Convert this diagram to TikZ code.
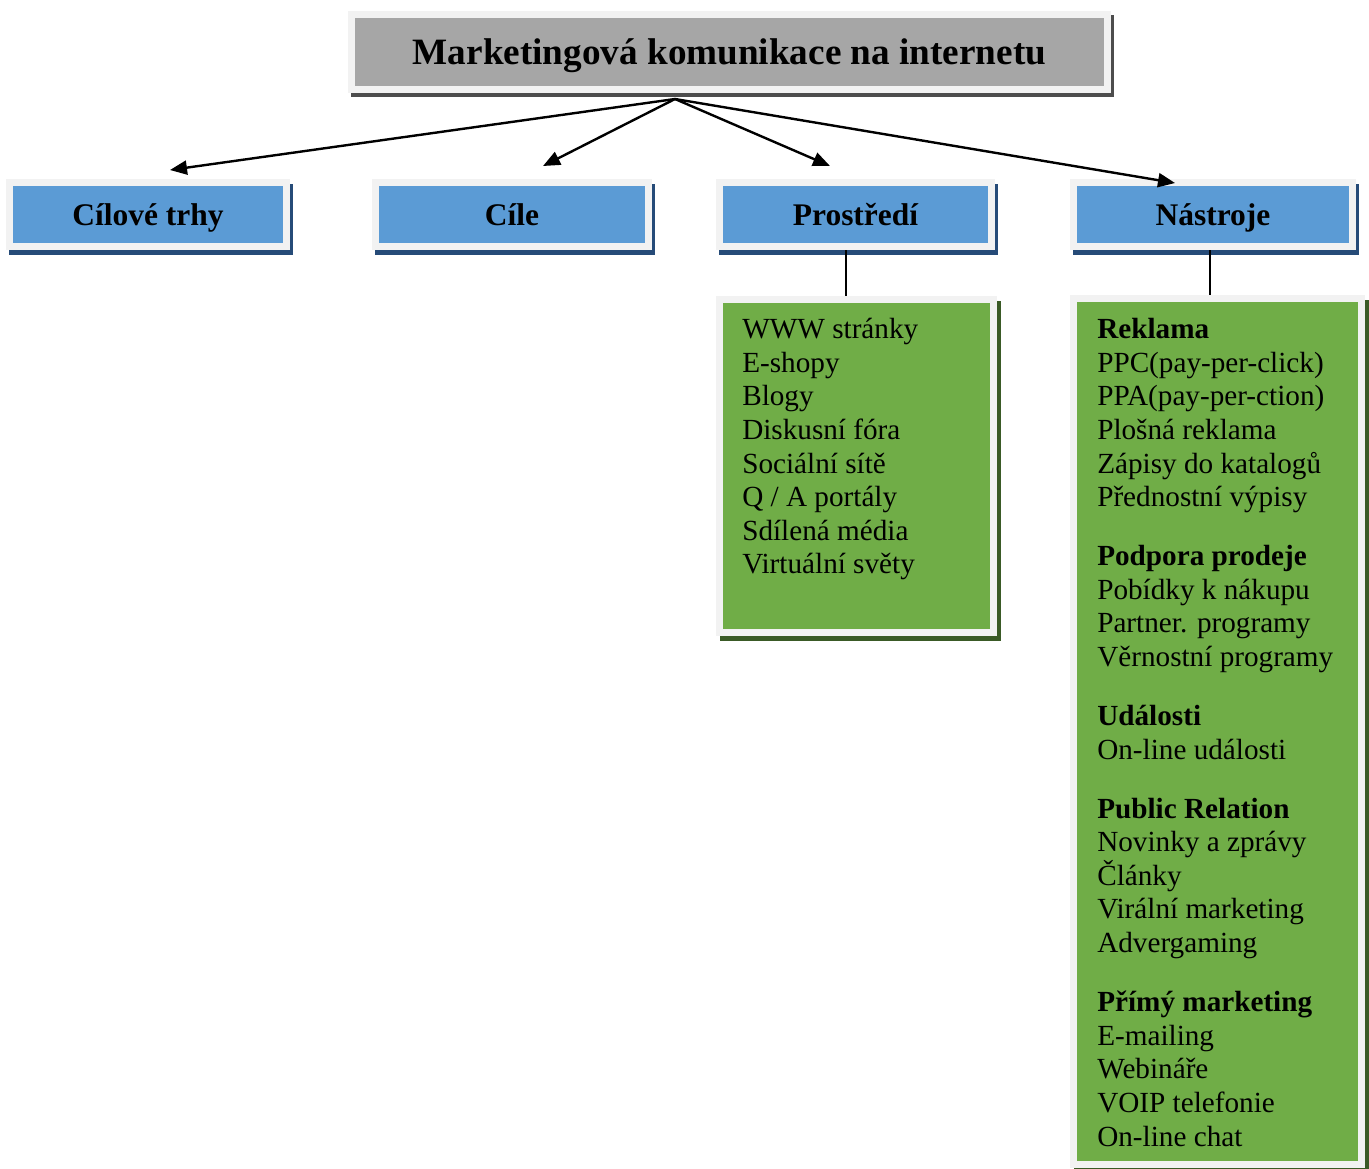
\documentclass[tikz,border=0pt]{standalone}
\usepackage{fontspec}
\setmainfont{Liberation Serif}
\usetikzlibrary{arrows.meta,shadows}

\newcommand{\pxu}{0.75pt}
\definecolor{rim}{HTML}{F2F2F2}
\definecolor{titlegray}{HTML}{A6A6A6}
\definecolor{titleshade}{HTML}{4D4D4D}
\definecolor{hdrblue}{HTML}{5B9BD5}
\definecolor{hdrshade}{HTML}{264B78}
\definecolor{listgreen}{HTML}{70AD47}
\definecolor{listshade}{HTML}{3A5A26}

\begin{document}
\begin{tikzpicture}[x=0.75pt,y=-0.75pt,
	box/.style={draw=rim, line width=7*\pxu, inner sep=0pt},
	titlebox/.style={box, fill=titlegray, text height=19pt, text depth=0pt,
		general shadow={fill=titleshade, draw=titleshade, line width=7*\pxu, shadow xshift=3*\pxu, shadow yshift=-4*\pxu},
		font=\fontsize{27.9pt}{33pt}\selectfont\bfseries},
	hdr/.style={box, fill=hdrblue, minimum height=64*\pxu, text height=17.2pt, text depth=0pt,
		general shadow={fill=hdrshade, draw=hdrshade, line width=7*\pxu, shadow xshift=3*\pxu, shadow yshift=-5*\pxu},
		font=\fontsize{23.6pt}{28pt}\selectfont\bfseries},
	listbox/.style={box, fill=listgreen,
		general shadow={fill=listshade, draw=listshade, line width=7*\pxu, shadow xshift=4*\pxu, shadow yshift=-5*\pxu}},
	items/.style={anchor=north west, inner sep=0pt, align=left, font=\fontsize{21.9pt}{25.22pt}\selectfont},
	arr/.style={line width=1.8pt, -{Triangle[length=17*\pxu,width=14*\pxu]}}]
	\useasboundingbox (0,0) rectangle (1369,1168);

	% title and the four branches
	\node[titlebox, minimum width=756*\pxu, minimum height=75*\pxu] (title) at (729.5,52) {Marketingová komunikace na internetu};
	\node[hdr, minimum width=277*\pxu] (trhy) at (148,214.5) {Cílové trhy};
	\node[hdr, minimum width=273*\pxu] (cile) at (512,214.5) {Cíle};
	\node[hdr, minimum width=272*\pxu] (prost) at (855.5,214.5) {Prostředí};
	\node[hdr, minimum width=279*\pxu] (nastr) at (1213,214.5) {Nástroje};

	% green lists
	\node[listbox, minimum width=274*\pxu, minimum height=333*\pxu] (prostlist) at (856.5,466) {};
	\node[listbox, minimum width=288*\pxu, minimum height=866*\pxu] (nastrlist) at (1217.5,731.5) {};

	\node[items] (prostitems) at (742,318) {WWW stránky\\E-shopy\\Blogy\\Diskusní fóra\\Sociální sítě\\Q / A portály\\Sdílená média\\Virtuální světy};
	\node[items] (nastritems) at (1097,318) {\textbf{Reklama}\\PPC(pay-per-click)\\PPA(pay-per-ction)\\Plošná reklama\\Zápisy do katalogů\\Přednostní výpisy\\[19pt]
		\textbf{Podpora prodeje}\\Pobídky k nákupu\\Partner. programy\\Věrnostní programy\\[19pt]
		\textbf{Události}\\On-line události\\[19pt]
		\textbf{Public Relation}\\Novinky a zprávy\\Články\\Virální marketing\\Advergaming\\[19pt]
		\textbf{Přímý marketing}\\E-mailing\\Webináře\\VOIP telefonie\\On-line chat};

	% arrows
	\coordinate (hub) at (675,99);
	\coordinate (totrhy) at (170,170);
	\coordinate (tocile) at (543,166);
	\coordinate (toprost) at (830,166);
	\coordinate (tonastr) at (1175,183);
	\draw[arr] (hub) -- (totrhy);
	\draw[arr] (hub) -- (tocile);
	\draw[arr] (hub) -- (toprost);
	\draw[arr] (hub) -- (tonastr);

	\draw[line width=1.5pt] ([xshift=-10*\pxu]prost.south) -- ([xshift=-11*\pxu]prostlist.north);
	\draw[line width=1.5pt] ([xshift=-3*\pxu]nastr.south) -- ([xshift=-7.5*\pxu]nastrlist.north);
\end{tikzpicture}
\end{document}
